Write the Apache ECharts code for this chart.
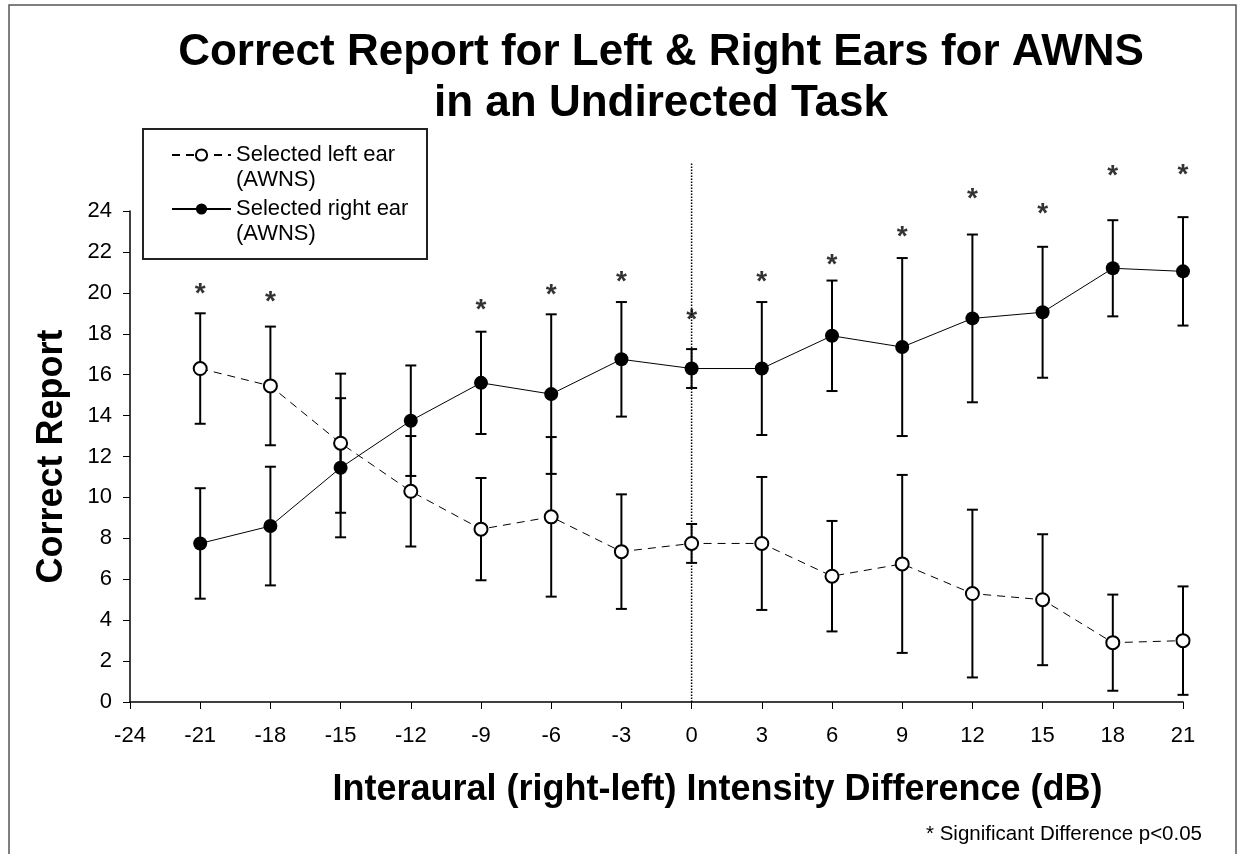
<!DOCTYPE html>
<html>
<head>
<meta charset="utf-8">
<script src="https://cdn.jsdelivr.net/npm/echarts@6/dist/echarts.min.js"></script>
<style>
  html, body { margin: 0; padding: 0; background: #fff; }
  #chart { width: 1240px; height: 854px; }
</style>
</head>
<body>
<div id="chart"></div>
<script>
// Interaural intensity difference (dB), right minus left
const intensityDiff = [-21, -18, -15, -12, -9, -6, -3, 0, 3, 6, 9, 12, 15, 18, 21];
// Mean correct report, left ear selected
const leftEar = [16.3, 15.45, 12.65, 10.3, 8.45, 9.05, 7.35, 7.75, 7.75, 6.15, 6.75, 5.3, 5.0, 2.9, 3.0];
// Mean correct report, right ear selected
const rightEar = [7.75, 8.6, 11.45, 13.75, 15.6, 15.05, 16.75, 16.3, 16.3, 17.9, 17.35, 18.75, 19.05, 21.2, 21.05];
// Error bar half-length (same for both ears at each level)
const errorHalf = [2.7, 2.9, 3.4, 2.7, 2.5, 3.9, 2.8, 0.95, 3.25, 2.7, 4.35, 4.1, 3.2, 2.35, 2.65];
// Levels with a significant left/right difference and the height of their asterisk
const sigDiff = [-21, -18, -9, -6, -3, 0, 3, 6, 9, 12, 15, 18, 21];
const sigHeight = [20.25, 19.9, 19.5, 20.2, 20.85, 19.0, 20.85, 21.7, 23.05, 24.9, 24.2, 26.05, 26.1];
// Reference line at 0 dB
const zeroLine = [[0, 0], [0, 26.4]];

const FONT = '"Liberation Sans", Arial, sans-serif';
const leftName = 'Selected left ear\n(AWNS)';
const rightName = 'Selected right ear\n(AWNS)';

function errorData(values) {
  return intensityDiff.map((x, i) => [x, values[i] - errorHalf[i], values[i] + errorHalf[i]]);
}

function renderErrorBar(params, api) {
  const x = api.value(0);
  const top = api.coord([x, api.value(2)]);
  const bot = api.coord([x, api.value(1)]);
  const hw = 5.5;
  const style = { stroke: '#000', lineWidth: 2 };
  return {
    type: 'group',
    children: [
      { type: 'line', shape: { x1: top[0], y1: top[1], x2: bot[0], y2: bot[1] }, style },
      { type: 'line', shape: { x1: top[0] - hw, y1: top[1], x2: top[0] + hw, y2: top[1] }, style },
      { type: 'line', shape: { x1: bot[0] - hw, y1: bot[1], x2: bot[0] + hw, y2: bot[1] }, style }
    ]
  };
}

// Legend entry: a blank line above so the icon sits level with the first text line
function legendLabel(name) {
  const parts = name.split('\n');
  return '{e| }\n{t|' + parts[0] + '}\n{t|' + parts[1] + '}';
}

const chart = echarts.init(document.getElementById('chart'), null, { renderer: 'canvas' });

chart.setOption({
  backgroundColor: '#fff',
  animation: false,
  textStyle: { fontFamily: FONT, color: '#000' },
  title: {
    text: 'Correct Report for Left & Right Ears for AWNS\nin an Undirected Task',
    left: 656,
    textAlign: 'center',
    top: 22,
    textStyle: { fontFamily: FONT, fontSize: 44, fontWeight: 'bold', color: '#000', lineHeight: 51 }
  },
  legend: {
    data: [leftName, rightName],
    orient: 'vertical',
    left: 171,
    top: 119,
    padding: 0,
    itemWidth: 59,
    itemHeight: 14,
    itemGap: -18,
    formatter: legendLabel,
    textStyle: {
      fontFamily: FONT,
      color: '#000',
      rich: {
        e: { fontSize: 22, lineHeight: 25 },
        t: { fontFamily: FONT, fontSize: 22, lineHeight: 25, color: '#000' }
      }
    }
  },
  grid: { left: 130, right: 57, top: 211, bottom: 152 },
  xAxis: {
    type: 'value',
    min: -24,
    max: 21,
    interval: 3,
    name: 'Interaural (right-left) Intensity Difference (dB)',
    nameLocation: 'middle',
    nameGap: 70,
    nameTextStyle: { fontFamily: FONT, fontSize: 36, fontWeight: 'bold', color: '#000', padding: [0, 0, 0, 122] },
    axisLine: { onZero: false, lineStyle: { color: '#000', width: 1.5 } },
    axisTick: { length: 7, lineStyle: { color: '#000' } },
    axisLabel: { fontFamily: FONT, fontSize: 22, color: '#000', margin: 23 },
    splitLine: { show: false }
  },
  yAxis: {
    type: 'value',
    min: 0,
    max: 24,
    interval: 2,
    name: 'Correct Report',
    nameLocation: 'middle',
    nameGap: 60,
    nameTextStyle: { fontFamily: FONT, fontSize: 36, fontWeight: 'bold', color: '#000' },
    axisLine: { show: true, onZero: false, lineStyle: { color: '#000', width: 1.5 } },
    axisTick: { show: true, length: 7, lineStyle: { color: '#000' } },
    axisLabel: { fontFamily: FONT, fontSize: 22, color: '#000', margin: 18 },
    splitLine: { show: false }
  },
  graphic: [
    {
      type: 'polyline',
      shape: { points: [[9, 854], [9, 5], [1236, 5], [1236, 854]] },
      style: { stroke: '#555', lineWidth: 1.5, fill: null },
      silent: true
    },
    {
      type: 'rect',
      shape: { x: 143, y: 129, width: 284, height: 130 },
      style: { stroke: '#222', lineWidth: 2, fill: '#fff' },
      z: 1,
      silent: true
    },
    {
      type: 'text',
      right: 38,
      top: 824,
      style: { text: '* Significant Difference p<0.05', font: '20.5px ' + FONT, fill: '#000' },
      silent: true
    }
  ],
  series: [
    {
      name: 'zero',
      type: 'line',
      data: zeroLine,
      symbol: 'none',
      clip: false,
      lineStyle: { color: '#000', width: 1.5, type: [1.5, 1.5] },
      z: 1,
      silent: true
    },
    {
      name: 'leftErr',
      type: 'custom',
      data: errorData(leftEar),
      renderItem: renderErrorBar,
      z: 2,
      silent: true
    },
    {
      name: 'rightErr',
      type: 'custom',
      data: errorData(rightEar),
      renderItem: renderErrorBar,
      z: 2,
      silent: true
    },
    {
      name: leftName,
      type: 'line',
      data: intensityDiff.map((x, i) => [x, leftEar[i]]),
      symbol: 'circle',
      symbolSize: 13,
      lineStyle: { color: '#000', width: 1, type: [8, 6] },
      itemStyle: { color: '#fff', borderColor: '#000', borderWidth: 2 },
      z: 3
    },
    {
      name: rightName,
      type: 'line',
      data: intensityDiff.map((x, i) => [x, rightEar[i]]),
      symbol: 'circle',
      symbolSize: 14,
      lineStyle: { color: '#000', width: 1 },
      itemStyle: { color: '#000', borderColor: '#000', borderWidth: 0 },
      z: 3
    },
    {
      name: 'significance',
      type: 'scatter',
      data: sigDiff.map((x, i) => [x, sigHeight[i]]),
      symbolSize: 1,
      clip: false,
      itemStyle: { color: 'rgba(0,0,0,0)' },
      label: {
        show: true,
        position: 'inside',
        formatter: '*',
        fontFamily: FONT,
        fontSize: 28,
        fontWeight: 'bold',
        color: '#000',
        offset: [0, 7]
      },
      z: 4,
      silent: true
    }
  ]
});
</script>
</body>
</html>
